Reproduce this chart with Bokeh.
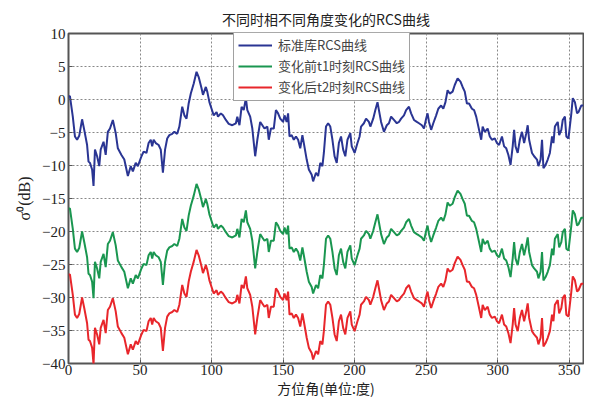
from bokeh.plotting import figure
from bokeh.models import Range1d, FixedTicker, Legend, LegendItem
from bokeh.embed import file_html
from bokeh.resources import INLINE

# ---------------- data ----------------
angle = [0, 1, 3, 4.5, 6, 7.5, 9.5, 11, 13, 14, 15, 16.5, 17.5, 18.5, 20, 21.5, 22.5, 24.5, 26, 27.5,
         29, 31, 33, 34.5, 37, 39, 41.5, 43.5, 45, 47, 48.5, 51, 52.5, 54.5, 56, 57.5, 58.5, 59.5, 61, 63,
         64.5, 66, 67.5, 69, 70.5, 72.5, 74, 76, 77.5, 79.5, 81, 82.5, 84, 85.5, 87.5, 89.5, 91, 93, 94, 96,
         97, 98.5, 100, 101.5, 103.5, 104.5, 106.5, 108, 110, 112, 114.5, 117, 118, 119.5, 121, 122.5, 124, 125, 127, 128.5,
         130.5, 132, 134, 135.5, 137, 139, 140, 141.5, 143.5, 145, 146.5, 148, 150, 151, 152.5, 153.5, 154.5, 156, 157.5, 159,
         160.5, 162, 163.5, 164.5, 166.5, 168, 170, 171, 173, 174.5, 176, 177.5, 178.5, 180, 181.5, 183, 184.5, 186, 187.5, 189,
         190.5, 192, 193.5, 195, 197, 198, 200, 202, 203.5, 204.5, 206.5, 208, 210, 211, 213, 214.5, 216, 217, 218.5, 220.5,
         222.5, 224, 225.5, 227.5, 229.5, 231, 232.5, 234.5, 236, 238, 239.5, 241.5, 243.5, 245, 247, 248.5, 250, 251, 252, 253.5,
         255, 257, 258.5, 260.5, 262, 263.5, 265, 266.5, 268.5, 270, 272, 274, 275.5, 277, 278.5, 280, 282, 283.5, 285, 287,
         288.5, 289.5, 291, 293, 294.5, 296, 298, 299.5, 301, 303, 304.5, 306, 307.5, 309, 310.5, 311.5, 312.5, 314, 315.5, 317,
         318.5, 320, 321, 322, 324, 325.5, 327.5, 328.5, 330, 331, 332, 333.5, 335, 336.5, 338, 339, 340, 342, 343, 344.5,
         345.5, 347, 348, 349.5, 351.5, 352.5, 354, 355.5, 356.5, 358.5, 360]

rcs_standard = [0.5, 0.5, -2.6, -5.6, -6.1, -5.5, -3.0, -4.6, -6.9, -9.4, -9.6, -10.6, -13.1, -7.6, -8.6, -10.1, -7.6, -6.4, -8.4, -4.9,
                -4.4, -3.1, -5.1, -7.4, -8.4, -9.1, -11.6, -10.1, -10.9, -9.6, -10.1, -8.6, -7.9, -8.1, -6.6, -6.1, -7.1, -6.1, -6.6, -6.9,
                -7.6, -11.1, -7.6, -5.9, -5.4, -5.2, -4.9, -5.2, -4.1, -1.1, -2.4, -2.9, -0.6, 0.9, 2.4, 4.2, 3.4, 1.7, 0.7, 1.9,
                1.2, -0.4, -1.4, -2.4, -1.9, -2.6, -2.1, -2.4, -3.1, -3.7, -3.9, -3.6, -2.6, -3.9, -1.1, -1.6, 0.2, -1.6, -2.6, -4.4,
                -8.6, -6.1, -3.4, -3.9, -4.4, -4.1, -6.1, -4.4, -4.4, -1.6, -2.1, -2.9, -3.4, -2.4, -3.4, -2.1, -5.6, -5.4, -6.1, -5.6,
                -6.1, -7.4, -5.4, -6.6, -9.1, -10.6, -11.4, -12.4, -11.1, -11.6, -9.6, -10.1, -8.1, -4.1, -3.6, -4.1, -6.1, -8.6, -9.6, -6.6,
                -5.6, -7.6, -8.6, -6.1, -5.1, -7.1, -8.1, -6.6, -5.6, -4.1, -3.6, -2.9, -3.4, -4.1, -2.9, -1.6, -0.4, -1.6, -3.4, -4.9,
                -3.9, -3.6, -2.6, -3.1, -3.6, -3.4, -2.9, -2.4, -1.6, -1.1, -2.1, -3.1, -3.4, -3.6, -3.9, -4.4, -2.9, -2.1, -3.4, -4.6,
                -3.6, -2.4, -1.4, -0.9, -1.4, -0.4, 1.4, 0.9, 1.2, 2.2, 3.2, 2.7, 1.9, 1.2, -0.6, -0.6, -1.4, -1.6, -2.6, -4.6,
                -6.1, -4.1, -4.9, -4.4, -5.6, -6.1, -5.9, -6.6, -6.9, -5.6, -7.1, -7.4, -8.4, -9.9, -7.1, -4.6, -7.1, -8.1, -6.1, -4.9,
                -6.6, -5.1, -3.9, -6.1, -8.1, -8.6, -9.1, -10.1, -9.1, -6.1, -10.4, -9.9, -9.1, -8.1, -5.6, -6.6, -4.1, -3.4, -5.4, -4.6,
                -3.1, -2.6, -5.6, -5.9, -2.1, 0.2, -0.4, -2.1, -1.9, -0.9, -0.9]

rcs_t1 = [-16.5, -16.5, -19.6, -22.6, -23.1, -22.5, -20.0, -21.6, -23.9, -26.4, -26.6, -27.6, -30.1, -24.6, -25.6, -27.1, -24.6, -23.4, -25.4, -21.9,
          -21.4, -20.1, -22.1, -24.4, -25.4, -26.1, -28.6, -27.1, -27.9, -26.6, -27.1, -25.6, -24.9, -25.1, -23.6, -23.1, -24.1, -23.1, -23.6, -23.9,
          -24.6, -28.1, -24.6, -22.9, -22.4, -22.2, -21.9, -22.2, -21.1, -18.1, -19.4, -19.9, -17.6, -16.1, -14.6, -12.8, -13.6, -15.3, -16.3, -15.1,
          -15.8, -17.4, -18.4, -19.4, -18.9, -19.6, -19.1, -19.4, -20.1, -20.7, -20.9, -20.6, -19.6, -20.9, -18.1, -18.6, -16.8, -18.6, -19.6, -21.4,
          -25.6, -23.1, -20.4, -20.9, -21.4, -21.1, -23.1, -21.4, -21.4, -18.6, -19.1, -19.9, -20.4, -19.4, -20.4, -19.1, -22.6, -22.4, -23.1, -22.6,
          -23.1, -24.4, -22.4, -23.6, -26.1, -27.6, -28.4, -29.4, -28.1, -28.6, -26.6, -27.1, -25.1, -21.1, -20.6, -21.1, -23.1, -25.6, -26.6, -23.6,
          -22.6, -24.6, -25.6, -23.1, -22.1, -24.1, -25.1, -23.6, -22.6, -21.1, -20.6, -19.9, -20.4, -21.1, -19.9, -18.6, -17.4, -18.6, -20.4, -21.9,
          -20.9, -20.6, -19.6, -20.1, -20.6, -20.4, -19.9, -19.4, -18.6, -18.1, -19.1, -20.1, -20.4, -20.6, -20.9, -21.4, -19.9, -19.1, -20.4, -21.6,
          -20.6, -19.4, -18.4, -17.9, -18.4, -17.4, -15.6, -16.1, -15.8, -14.8, -13.8, -14.3, -15.1, -15.8, -17.6, -17.6, -18.4, -18.6, -19.6, -21.6,
          -23.1, -21.1, -21.9, -21.4, -22.6, -23.1, -22.9, -23.6, -23.9, -22.6, -24.1, -24.4, -25.4, -26.9, -24.1, -21.6, -24.1, -25.1, -23.1, -21.9,
          -23.6, -22.1, -20.9, -23.1, -25.1, -25.6, -26.1, -27.1, -26.1, -23.1, -27.4, -26.9, -26.1, -25.1, -22.6, -23.6, -21.1, -20.4, -22.4, -21.6,
          -20.1, -19.6, -22.6, -22.9, -19.1, -16.8, -17.4, -19.1, -18.9, -17.9, -17.9]

rcs_t2 = [-26.5, -26.5, -29.6, -32.6, -33.1, -32.5, -30.0, -31.6, -33.9, -36.4, -36.6, -37.6, -40.1, -34.6, -35.6, -37.1, -34.6, -33.4, -35.4, -31.9,
          -31.4, -30.1, -32.1, -34.4, -35.4, -36.1, -38.6, -37.1, -37.9, -36.6, -37.1, -35.6, -34.9, -35.1, -33.6, -33.1, -34.1, -33.1, -33.6, -33.9,
          -34.6, -38.1, -34.6, -32.9, -32.4, -32.2, -31.9, -32.2, -31.1, -28.1, -29.4, -29.9, -27.6, -26.1, -24.6, -22.8, -23.6, -25.3, -26.3, -25.1,
          -25.8, -27.4, -28.4, -29.4, -28.9, -29.6, -29.1, -29.4, -30.1, -30.7, -30.9, -30.6, -29.6, -30.9, -28.1, -28.6, -26.8, -28.6, -29.6, -31.4,
          -35.6, -33.1, -30.4, -30.9, -31.4, -31.1, -33.1, -31.4, -31.4, -28.6, -29.1, -29.9, -30.4, -29.4, -30.4, -29.1, -32.6, -32.4, -33.1, -32.6,
          -33.1, -34.4, -32.4, -33.6, -36.1, -37.6, -38.4, -39.4, -38.1, -38.6, -36.6, -37.1, -35.1, -31.1, -30.6, -31.1, -33.1, -35.6, -36.6, -33.6,
          -32.6, -34.6, -35.6, -33.1, -32.1, -34.1, -35.1, -33.6, -32.6, -31.1, -30.6, -29.9, -30.4, -31.1, -29.9, -28.6, -27.4, -28.6, -30.4, -31.9,
          -30.9, -30.6, -29.6, -30.1, -30.6, -30.4, -29.9, -29.4, -28.6, -28.1, -29.1, -30.1, -30.4, -30.6, -30.9, -31.4, -29.9, -29.1, -30.4, -31.6,
          -30.6, -29.4, -28.4, -27.9, -28.4, -27.4, -25.6, -26.1, -25.8, -24.8, -23.8, -24.3, -25.1, -25.8, -27.6, -27.6, -28.4, -28.6, -29.6, -31.6,
          -33.1, -31.1, -31.9, -31.4, -32.6, -33.1, -32.9, -33.6, -33.9, -32.6, -34.1, -34.4, -35.4, -36.9, -34.1, -31.6, -34.1, -35.1, -33.1, -31.9,
          -33.6, -32.1, -30.9, -33.1, -35.1, -35.6, -36.1, -37.1, -36.1, -33.1, -37.4, -36.9, -36.1, -35.1, -32.6, -33.6, -31.1, -30.4, -32.4, -31.6,
          -30.1, -29.6, -32.6, -32.9, -29.1, -26.8, -27.4, -29.1, -28.9, -27.9, -27.9]

x_ticks = [0, 50, 100, 150, 200, 250, 300, 350]
y_ticks = [-40, -35, -30, -25, -20, -15, -10, -5, 0, 5, 10]
series_labels = ["标准库RCS曲线", "变化前t1时刻RCS曲线", "变化后t2时刻RCS曲线"]
series_colors = ["#2a3593", "#1a9650", "#e8262b"]
title_text = "不同时相不同角度变化的RCS曲线"
x_label = "方位角(单位:度)"
y_label = "σ⁰(dB)"

CJK = "Noto Sans CJK SC"
SERIF = "Liberation Serif"

# ---------------- figure ----------------
p = figure(width=584, height=409, output_backend="svg", toolbar_location=None,
           x_range=Range1d(0, 360), y_range=Range1d(-40, 10),
           min_border_left=68, min_border_right=1, min_border_top=33, min_border_bottom=46)

p.title.text = title_text
p.title.text_font = CJK
p.title.text_font_size = "14px"
p.title.text_font_style = "normal"
p.title.align = "center"
p.title.offset = 22
p.title.standoff = 10
p.title.text_color = "#222222"

p.outline_line_color = "#555555"
p.outline_line_width = 2
p.background_fill_color = "white"
p.border_fill_color = "white"

for ax in (p.xaxis[0], p.yaxis[0]):
    ax.axis_line_color = None
    ax.major_tick_in = 4
    ax.major_tick_out = 0
    ax.major_tick_line_color = "#555555"
    ax.minor_tick_line_color = None
    ax.major_label_text_font = SERIF
    ax.major_label_text_font_size = "15px"
    ax.major_label_text_color = "#222222"

p.xaxis[0].ticker = FixedTicker(ticks=x_ticks)
p.yaxis[0].ticker = FixedTicker(ticks=y_ticks)
p.xaxis[0].major_label_standoff = 1
p.yaxis[0].major_label_standoff = 3

p.xaxis[0].axis_label = x_label
p.xaxis[0].axis_label_text_font = CJK
p.xaxis[0].axis_label_text_font_size = "14px"
p.xaxis[0].axis_label_text_font_style = "normal"
p.xaxis[0].axis_label_standoff = 0
p.xaxis[0].axis_label_text_color = "#222222"

p.yaxis[0].axis_label = y_label
p.yaxis[0].axis_label_text_font = SERIF
p.yaxis[0].axis_label_text_font_size = "16px"
p.yaxis[0].axis_label_text_font_style = "normal"
p.yaxis[0].axis_label_standoff = 6
p.yaxis[0].axis_label_text_color = "#222222"

for g in (p.xgrid[0], p.ygrid[0]):
    g.grid_line_color = "#888888"
    g.grid_line_dash = "2 2"
    g.grid_line_width = 1

r1 = p.line(angle, rcs_standard, line_color=series_colors[0], line_width=2)
r2 = p.line(angle, rcs_t1, line_color=series_colors[1], line_width=2)
r3 = p.line(angle, rcs_t2, line_color=series_colors[2], line_width=2)

legend = Legend(items=[LegendItem(label=series_labels[0], renderers=[r1]),
                       LegendItem(label=series_labels[1], renderers=[r2]),
                       LegendItem(label=series_labels[2], renderers=[r3])],
                location=(165, 262))
legend.label_text_font = CJK
legend.label_text_font_size = "13px"
legend.label_text_line_height = 1.0
legend.label_height = 16
legend.glyph_height = 16
legend.glyph_width = 34
legend.spacing = 2
legend.padding = 4
legend.margin = 0
legend.border_line_color = "#444444"
legend.border_line_width = 1.5
legend.background_fill_alpha = 1
legend.label_standoff = 6
p.add_layout(legend)

open("out.html", "w").write(file_html(p, INLINE))
